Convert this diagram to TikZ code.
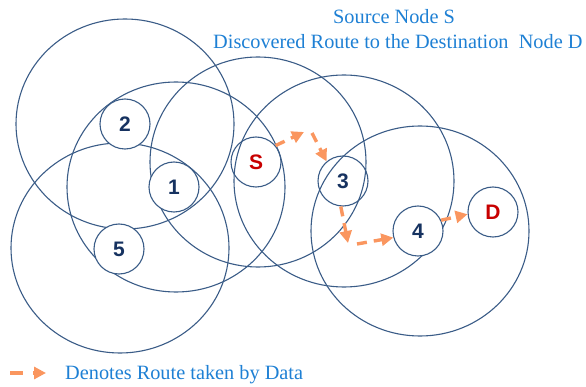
\documentclass[tikz,border=0pt]{standalone}
\usepackage{fontspec}
\setmainfont{Liberation Serif}
\newfontfamily\labelfont{Liberation Sans}
\usetikzlibrary{arrows.meta}

\definecolor{ringblue}{RGB}{58,92,135}
\definecolor{idnavy}{RGB}{22,50,96}
\definecolor{idred}{RGB}{200,0,0}
\definecolor{routeorange}{RGB}{250,150,95}
\definecolor{captionblue}{RGB}{30,128,212}

\tikzset{
  ringline/.style={draw=ringblue, line width=1.1pt},
  hostbox/.style={circle, draw=ringblue, line width=1.1pt, minimum size=50pt, inner sep=0pt,
                  font=\labelfont\bfseries\fontsize{21}{21}\selectfont, text=idnavy},
  hostfilled/.style={hostbox, fill=white},
  endpoint/.style={text=idred},
  route/.style={draw=routeorange, line width=3.4pt, dash pattern=on 10pt off 7pt,
                -{Triangle[length=12pt,width=12pt]}},
  caption/.style={text=captionblue, font=\fontsize{20.3}{20.3}\selectfont, inner sep=0pt}
}

\begin{document}
\begin{tikzpicture}[x=1pt, y=-1pt]
  \useasboundingbox (0,0) rectangle (586,387);

  % transmission ranges of the hosts
  \draw[ringline] (125,124) ellipse [x radius=109, y radius=105];
  \draw[ringline] (176,187) ellipse [x radius=109, y radius=105];
  \draw[ringline] (120,248) ellipse [x radius=109, y radius=105];
  \draw[ringline] (258,162) ellipse [x radius=108, y radius=105];
  \draw[ringline] (344,181) ellipse [x radius=110, y radius=106];
  \draw[ringline] (420,231) ellipse [x radius=109, y radius=105];

  % hosts
  \node[hostfilled] (n2) at (125,124) {2};
  \node[hostfilled] (n1) at (174,187) {1};
  \node[hostfilled] (n5) at (119,249) {5};
  \node[hostbox, endpoint] (s) at (256,162) {S};
  \node[hostbox] (n3) at (343,181) {3};
  \node[hostfilled] (n4) at (418,231) {4};
  \node[hostfilled, endpoint] (d) at (493,212) {D};

  % discovered route
  \coordinate (k1) at (304,132);
  \coordinate (k2) at (312,133);
  \coordinate (k3) at (348,243);
  \coordinate (k4) at (357,244);
  \draw[route] (s.40) -- (k1);
  \draw[route] (k2) -- (n3.130);
  \draw[route] (n3.265) -- (k3);
  \draw[route] (k4) -- (n4.195);
  \draw[route] (n4.25) -- (d.185);

  % captions
  \node[caption, anchor=base west] (t1) at (333,24) {Source Node S};
  \node[caption, anchor=base west] (t2) at (213,49) {Discovered Route to the Destination\ \ Node D};

  % legend
  \coordinate (l1) at (10,373);
  \coordinate (l2) at (46,373);
  \draw[route, dash pattern=on 13pt off 10pt] (l1) -- (l2);
  \node[caption, anchor=base west] (lt) at (65,379) {Denotes Route taken by Data};
\end{tikzpicture}
\end{document}
